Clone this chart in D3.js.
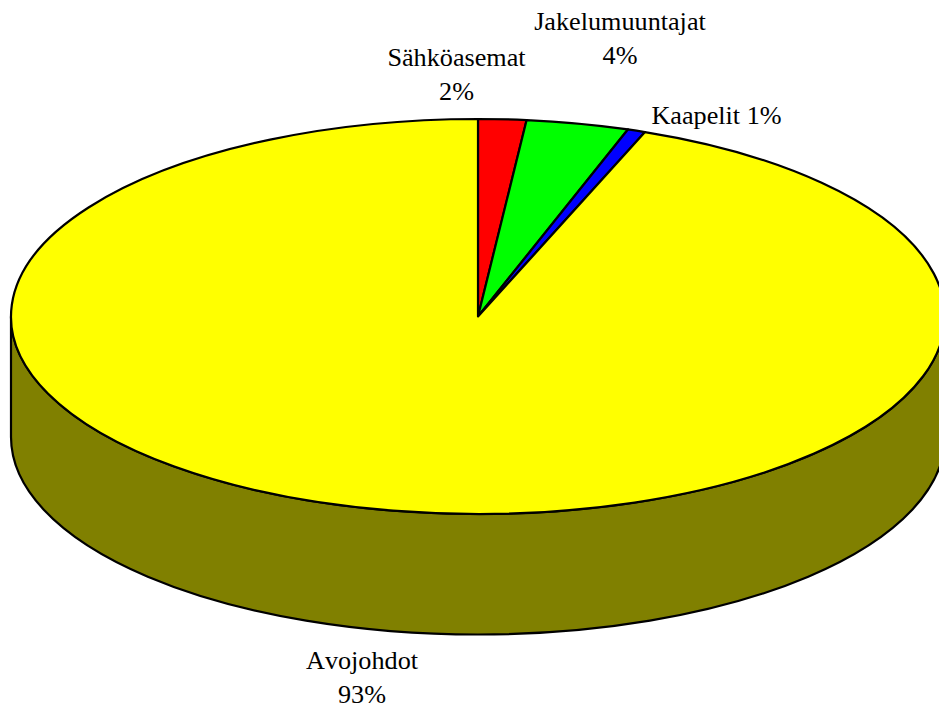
<!DOCTYPE html>
<html>
<head>
<meta charset="utf-8">
<script src="https://cdn.jsdelivr.net/npm/d3@7"></script>
<style>
    html, body { margin: 0; padding: 0; background: #fff; overflow: hidden; }
    svg { display: block; }
    text { font-family: "Liberation Serif", serif; font-size: 26.2px; font-kerning: none; fill: #000; }
</style>
</head>
<body>
<script>
//slices, clockwise from twelve o'clock
var categories = ["Sähköasemat", "Jakelumuuntajat", "Kaapelit", "Avojohdot"];
var shares = [1.66, 3.54, 0.62, 94.18];
var percentLabels = ["2%", "4%", "1%", "93%"]; //as printed
var sliceColors = ["#FF0000", "#00FF00", "#0000FF", "#FFFF00"];

var width = 939,
    height = 709,
    centerX = 478,
    centerY = 316.5,
    radiusX = 467,
    radiusY = 197.5,
    depth = 120.5,
    lineWidth = 2.2;

var svg = d3.select("body")
    .append("svg")
    .attr("width", width)
    .attr("height", height);

//wall of the pie, only the front half of the ellipse shows
var wallPath = "M" + (centerX - radiusX) + "," + centerY
    + " L" + (centerX - radiusX) + "," + (centerY + depth)
    + " A" + radiusX + "," + radiusY + " 0 0 0 " + (centerX + radiusX) + "," + (centerY + depth)
    + " L" + (centerX + radiusX) + "," + centerY
    + " A" + radiusX + "," + radiusY + " 0 0 1 " + (centerX - radiusX) + "," + centerY + "Z";

svg.append("path")
    .attr("d", wallPath)
    .attr("fill", "#808000")
    .attr("stroke", "#000")
    .attr("stroke-width", lineWidth);

//top face, a circular pie squashed into an ellipse
var pie = d3.pie().sort(null);
var arc = d3.arc().innerRadius(0).outerRadius(radiusX);

svg.append("g")
    .attr("transform", "translate(" + centerX + "," + centerY + ") scale(1," + (radiusY / radiusX) + ")")
    .selectAll("path")
    .data(pie(shares))
    .enter()
    .append("path")
    .attr("d", arc)
    .attr("fill", function (d, i) { return sliceColors[i]; })
    .attr("stroke", "#000")
    .attr("stroke-width", lineWidth)
    .attr("stroke-linejoin", "round")
    .attr("vector-effect", "non-scaling-stroke");

//label anchors, one block per slice
var labelX = [456.5, 620, 716.5, 362];
var labelY = [66, 30, 124, 669];
var lineGap = 34;

categories.forEach(function (name, i) {
    if (name == "Kaapelit") {
        svg.append("text")
            .attr("x", labelX[i])
            .attr("y", labelY[i])
            .attr("text-anchor", "middle")
            .text(name + " " + percentLabels[i]);
    } else {
        var label = svg.append("text")
            .attr("text-anchor", "middle");
        label.append("tspan")
            .attr("x", labelX[i])
            .attr("y", labelY[i])
            .text(name);
        label.append("tspan")
            .attr("x", labelX[i])
            .attr("y", labelY[i] + lineGap)
            .text(percentLabels[i]);
    }
});
</script>
</body>
</html>
